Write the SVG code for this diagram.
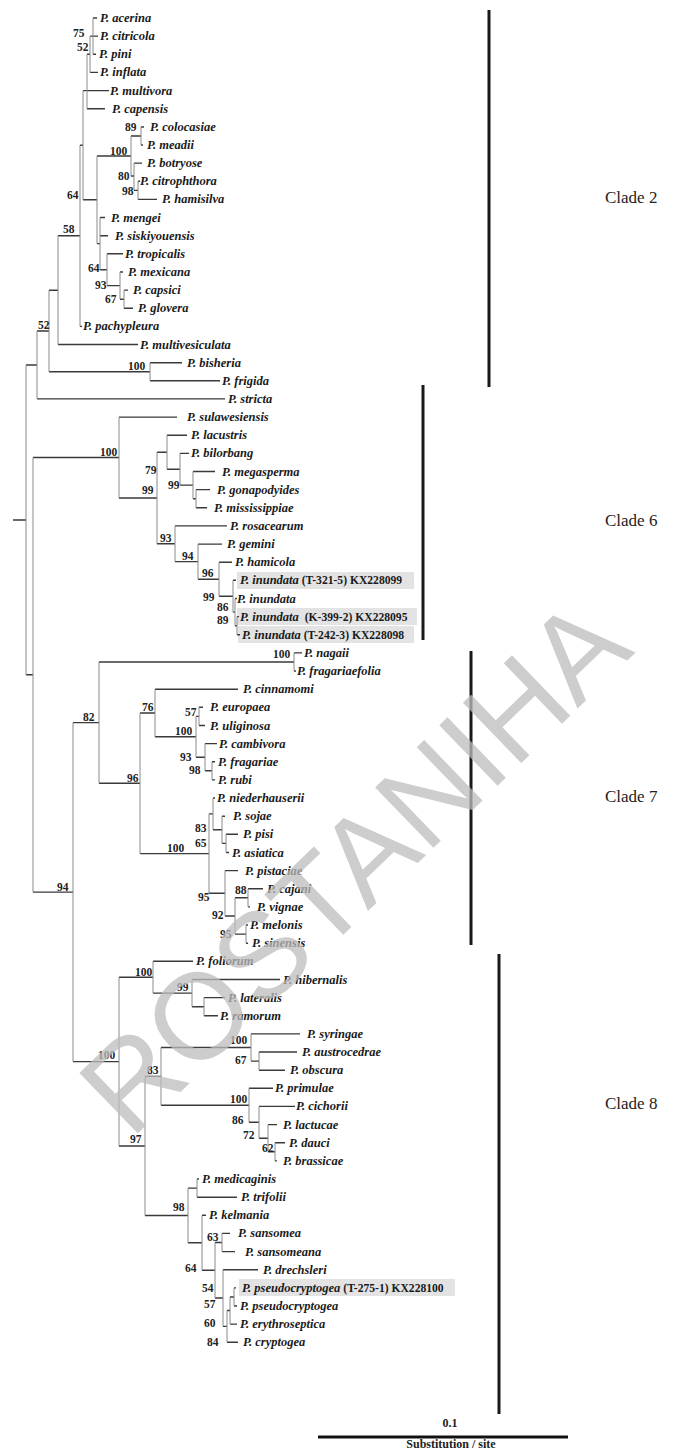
<svg xmlns="http://www.w3.org/2000/svg" width="673" height="1450" viewBox="0 0 673 1450">
<style>
.h{stroke:#3a3a3a;stroke-width:1.4;fill:none}
.v{stroke:#8a8a8a;stroke-width:1;fill:none}
.t{font-family:"Liberation Serif",serif;font-size:12.5px;font-weight:bold;font-style:italic;fill:#1a1a1a}
.n{font-style:normal;font-size:11.6px}
.b{font-family:"Liberation Serif",serif;font-size:11.5px;font-weight:bold;fill:#222}
.clade{font-family:"Liberation Serif",serif;font-size:17px;fill:#222}
.bar{stroke:#1a1a1a;stroke-width:3}
.hl{fill:#e3e3e3}
.sc{font-family:"Liberation Serif",serif;font-size:12px;font-weight:bold;fill:#222;text-anchor:middle}
</style>
<rect width="673" height="1450" fill="#fff"/>
<g id="highlights">
<rect class="hl" x="237" y="572" width="177" height="17"/>
<rect class="hl" x="237" y="608" width="180" height="17"/>
<rect class="hl" x="238" y="626" width="176" height="17"/>
<rect class="hl" x="239" y="1279" width="216" height="17"/>
</g>
<g id="connectors">
<path class="h" d="M93 18H97M93 36.1H98M93 54.3H96M90 36.1H93M90 72.4H98M87 54.3H90M87 90.6H109M87 108.7H105M83 90.6H87
M141 127H144M141 145H143M131 136H141M134 163.1H142M131 176H134M138 181.3H140M138 199.4H157M134 190.4H138M97 156H131
M100 217.5H105M100 235.7H108M107 253.8H123M120 272H123M124 290.1H128M124 308.2H133M120 299.2H124M107 285.6H120M100 269.7H107M97 243.6H100M83 199.8H97M80 145.2H83
M80 326.4H82M58 235.8H80M58 344.5H138M49 290.2H58M150 362.7H182M150 380.8H220M49 371.8H150M37 331H49M37 398.9H225M26 365H37M13 520H26
M119 417.1H177M167 435.2H187M180 453.4H189M193 471.5H215M196 489.6H210M196 507.8H207M193 498.7H196M180 485.1H193M167 469.2H180M157 452.2H167
M175 525.9H227M198 544.1H222M219 562.2H232M233 580.3H236M235 598.5H237M237 616.6H239M237 634.8H240M235 625.7H237M233 612.1H235M219 596.2H233M198 579.2H219M175 561.6H198M157 543.8H175M119 498H157M33 457.5H119
M294 652.9H302M294 671H296M99 662H294M155 689.2H238M199 707.3H203M199 725.5H205M196 716.4H199M205 743.6H217M212 761.8H215M212 779.9H215M205 770.8H212M196 757.2H205M155 736.8H196M140 713H155
M213 798H215M222 816.2H225M226 834.3H238M226 852.5H229M222 843.4H226M213 829.8H222M209 813.9H213M225 870.6H238M248 888.7H263M248 906.9H250M235 897.8H248M246 925H248M246 943.2H248M235 934.1H246M225 916H235M209 893.3H225M140 853.6H209M99 783.3H140M73 722.6H99
M153 961.3H193M192 979.5H280M204 997.6H225M204 1015.7H218M192 1006.7H204M153 993.1H192M119 977.2H153
M251 1033.9H300M259 1052H297M259 1070.2H285M251 1061.1H259M161 1047.5H251M249 1088.3H273M259 1106.4H295M268 1124.6H277M275 1142.7H285M275 1160.9H277M268 1151.8H275M259 1138.2H268M249 1122.3H259M161 1105.3H249M145 1076.4H161
M197 1179H199M197 1197.2H237M188 1188.1H197M202 1215.3H206M222 1233.4H230M222 1251.6H235M215 1242.5H222M223 1269.7H258M234 1287.9H236M234 1306H237M230 1297H234M230 1324.1H237M227 1310.5H230M227 1342.3H238M223 1326.4H227M215 1298H223M202 1270.3H215M188 1242.8H202M145 1215.5H188M119 1146H145M73 1061.6H119M33 892.1H73M26 674.8H33"/>
<path class="v" d="M93 18V54.3M90 36.1V72.4M87 54.3V108.7M83 90.6V199.8M141 127V145M138 181.3V199.4M134 163.1V190.4M131 136V176M124 290.1V308.2M120 272V299.2M107 253.8V285.6M100 217.5V269.7M97 156V243.6M80 145.2V326.4M58 235.8V344.5M150 362.7V380.8M49 290.2V371.8M37 331V398.9M26 365V674.8M33 457.5V892.1
M196 489.6V507.8M193 471.5V498.7M180 453.4V485.1M167 435.2V469.2M237 616.6V634.8M235 598.5V625.7M233 580.3V612.1M219 562.2V596.2M198 544.1V579.2M175 525.9V561.6M157 452.2V543.8M119 417.1V498
M294 652.9V671M199 707.3V725.5M212 761.8V779.9M205 743.6V770.8M196 716.4V757.2M155 689.2V736.8M226 834.3V852.5M222 816.2V843.4M213 798V829.8M248 888.7V906.9M246 925V943.2M235 897.8V934.1M225 870.6V916M209 813.9V893.3M140 713V853.6M99 662V783.3M73 722.6V1061.6
M204 997.6V1015.7M192 979.5V1006.7M153 961.3V993.1M259 1052V1070.2M251 1033.9V1061.1M275 1142.7V1160.9M268 1124.6V1151.8M259 1106.4V1138.2M249 1088.3V1122.3M161 1047.5V1105.3M197 1179V1197.2M222 1233.4V1251.6M234 1287.9V1306M230 1297V1324.1M227 1310.5V1342.3M223 1269.7V1326.4M215 1242.5V1298M202 1215.3V1270.3M188 1188.1V1242.8M145 1076.4V1215.5M119 977.2V1146"/>
</g>
<g id="support">
<text class="b" x="73" y="37">75</text><text class="b" x="77" y="51">52</text>
<text class="b" x="125" y="131">89</text><text class="b" x="110" y="155">100</text>
<text class="b" x="118" y="180">80</text><text class="b" x="122" y="195">98</text>
<text class="b" x="67" y="199">64</text><text class="b" x="63" y="233">58</text>
<text class="b" x="88" y="272">64</text><text class="b" x="95" y="289">93</text>
<text class="b" x="105" y="303">67</text><text class="b" x="38" y="329">52</text>
<text class="b" x="128" y="370">100</text>
<text class="b" x="100" y="456">100</text><text class="b" x="145" y="474">79</text>
<text class="b" x="142" y="494">99</text><text class="b" x="168" y="489">99</text>
<text class="b" x="160" y="542">93</text><text class="b" x="182" y="560">94</text>
<text class="b" x="202" y="577">96</text><text class="b" x="203" y="601">99</text>
<text class="b" x="217" y="611">86</text><text class="b" x="217" y="624">89</text>
<text class="b" x="273" y="658">100</text><text class="b" x="83" y="721">82</text>
<text class="b" x="142" y="711">76</text><text class="b" x="185" y="716">57</text>
<text class="b" x="175" y="735">100</text><text class="b" x="180" y="761">93</text>
<text class="b" x="189" y="774">98</text><text class="b" x="127" y="782">96</text>
<text class="b" x="195" y="832">83</text><text class="b" x="195" y="847">65</text>
<text class="b" x="167" y="852">100</text><text class="b" x="57" y="891">94</text>
<text class="b" x="235" y="894">88</text><text class="b" x="198" y="901">95</text>
<text class="b" x="212" y="919">92</text><text class="b" x="220" y="938">95</text>
<text class="b" x="135" y="976">100</text><text class="b" x="177" y="991">99</text>
<text class="b" x="230" y="1044">100</text><text class="b" x="98" y="1059">100</text>
<text class="b" x="235" y="1064">67</text><text class="b" x="147" y="1074">83</text>
<text class="b" x="230" y="1103">100</text><text class="b" x="232" y="1124">86</text>
<text class="b" x="243" y="1139">72</text><text class="b" x="130" y="1143">97</text>
<text class="b" x="262" y="1152">62</text><text class="b" x="173" y="1211">98</text>
<text class="b" x="207" y="1241">63</text><text class="b" x="185" y="1272">64</text>
<text class="b" x="202" y="1292">54</text><text class="b" x="204" y="1308">57</text>
<text class="b" x="204" y="1327">60</text><text class="b" x="207" y="1346">84</text>
</g>
<g id="taxa">
<g id="t01"><text class="t" x="100" y="22">P. acerina</text></g>
<g id="t02"><text class="t" x="100" y="40">P. citricola</text></g>
<g id="t03"><text class="t" x="99" y="58">P. pini</text></g>
<g id="t04"><text class="t" x="100" y="76">P. inflata</text></g>
<g id="t05"><text class="t" x="110" y="95">P. multivora</text></g>
<g id="t06"><text class="t" x="112" y="113">P. capensis</text></g>
<g id="t07"><text class="t" x="150" y="131">P. colocasiae</text></g>
<g id="t08"><text class="t" x="147" y="149">P. meadii</text></g>
<g id="t09"><text class="t" x="147" y="167">P. botryose</text></g>
<g id="t10"><text class="t" x="140" y="185">P. citrophthora</text></g>
<g id="t11"><text class="t" x="162" y="203">P. hamisilva</text></g>
<g id="t12"><text class="t" x="111" y="222">P. mengei</text></g>
<g id="t13"><text class="t" x="115" y="240">P. siskiyouensis</text></g>
<g id="t14"><text class="t" x="125" y="258">P. tropicalis</text></g>
<g id="t15"><text class="t" x="128" y="276">P. mexicana</text></g>
<g id="t16"><text class="t" x="133" y="294">P. capsici</text></g>
<g id="t17"><text class="t" x="138" y="312">P. glovera</text></g>
<g id="t18"><text class="t" x="83" y="330">P. pachypleura</text></g>
<g id="t19"><text class="t" x="140" y="349">P. multivesiculata</text></g>
<g id="t20"><text class="t" x="187" y="367">P. bisheria</text></g>
<g id="t21"><text class="t" x="222" y="385">P. frigida</text></g>
<g id="t22"><text class="t" x="228" y="403">P. stricta</text></g>
<g id="t23"><text class="t" x="187" y="421">P. sulawesiensis</text></g>
<g id="t24"><text class="t" x="191" y="439">P. lacustris</text></g>
<g id="t25"><text class="t" x="191" y="457">P. bilorbang</text></g>
<g id="t26"><text class="t" x="222" y="476">P. megasperma</text></g>
<g id="t27"><text class="t" x="217" y="494">P. gonapodyides</text></g>
<g id="t28"><text class="t" x="214" y="512">P. mississippiae</text></g>
<g id="t29"><text class="t" x="230" y="530">P. rosacearum</text></g>
<g id="t30"><text class="t" x="227" y="548">P. gemini</text></g>
<g id="t31"><text class="t" x="235" y="566">P. hamicola</text></g>
<g id="t32"><text class="t" x="240" y="584">P. inundata<tspan class="n"> (T-321-5) KX228099</tspan></text></g>
<g id="t33"><text class="t" x="237" y="603">P. inundata</text></g>
<g id="t34"><text class="t" x="240" y="621">P. inundata<tspan class="n" dx="3"> (K-399-2) KX228095</tspan></text></g>
<g id="t35"><text class="t" x="242" y="639">P. inundata<tspan class="n"> (T-242-3) KX228098</tspan></text></g>
<g id="t36"><text class="t" x="304" y="657">P. nagaii</text></g>
<g id="t37"><text class="t" x="297" y="675">P. fragariaefolia</text></g>
<g id="t38"><text class="t" x="243" y="693">P. cinnamomi</text></g>
<g id="t39"><text class="t" x="210" y="711">P. europaea</text></g>
<g id="t40"><text class="t" x="210" y="730">P. uliginosa</text></g>
<g id="t41"><text class="t" x="219" y="748">P. cambivora</text></g>
<g id="t42"><text class="t" x="218" y="766">P. fragariae</text></g>
<g id="t43"><text class="t" x="218" y="784">P. rubi</text></g>
<g id="t44"><text class="t" x="217" y="802">P. niederhauserii</text></g>
<g id="t45"><text class="t" x="233" y="820">P. sojae</text></g>
<g id="t46"><text class="t" x="243" y="838">P. pisi</text></g>
<g id="t47"><text class="t" x="232" y="857">P. asiatica</text></g>
<g id="t48"><text class="t" x="245" y="875">P. pistaciae</text></g>
<g id="t49"><text class="t" x="267" y="893">P. cajani</text></g>
<g id="t50"><text class="t" x="257" y="911">P. vignae</text></g>
<g id="t51"><text class="t" x="250" y="929">P. melonis</text></g>
<g id="t52"><text class="t" x="252" y="947">P. sinensis</text></g>
<g id="t53"><text class="t" x="196" y="965">P. foliorum</text></g>
<g id="t54"><text class="t" x="283" y="984">P. hibernalis</text></g>
<g id="t55"><text class="t" x="228" y="1002">P. lateralis</text></g>
<g id="t56"><text class="t" x="220" y="1020">P. ramorum</text></g>
<g id="t57"><text class="t" x="307" y="1038">P. syringae</text></g>
<g id="t58"><text class="t" x="302" y="1056">P. austrocedrae</text></g>
<g id="t59"><text class="t" x="290" y="1074">P. obscura</text></g>
<g id="t60"><text class="t" x="275" y="1092">P. primulae</text></g>
<g id="t61"><text class="t" x="296" y="1110">P. cichorii</text></g>
<g id="t62"><text class="t" x="283" y="1129">P. lactucae</text></g>
<g id="t63"><text class="t" x="289" y="1147">P. dauci</text></g>
<g id="t64"><text class="t" x="283" y="1165">P. brassicae</text></g>
<g id="t65"><text class="t" x="202" y="1183">P. medicaginis</text></g>
<g id="t66"><text class="t" x="241" y="1201">P. trifolii</text></g>
<g id="t67"><text class="t" x="209" y="1219">P. kelmania</text></g>
<g id="t68"><text class="t" x="238" y="1237">P. sansomea</text></g>
<g id="t69"><text class="t" x="245" y="1256">P. sansomeana</text></g>
<g id="t70"><text class="t" x="263" y="1274">P. drechsleri</text></g>
<g id="t71"><text class="t" x="242" y="1292">P. pseudocryptogea<tspan class="n"> (T-275-1) KX228100</tspan></text></g>
<g id="t72"><text class="t" x="240" y="1310">P. pseudocryptogea</text></g>
<g id="t73"><text class="t" x="240" y="1328">P. erythroseptica</text></g>
<g id="t74"><text class="t" x="243" y="1346">P. cryptogea</text></g>
</g>
<g id="clade2"><line class="bar" x1="489" y1="10" x2="489" y2="387"/><text class="clade" x="605" y="203">Clade 2</text></g>
<g id="clade6"><line class="bar" x1="423" y1="385" x2="423" y2="640"/><text class="clade" x="605" y="526">Clade 6</text></g>
<g id="clade7"><line class="bar" x1="471" y1="651" x2="471" y2="945"/><text class="clade" x="605" y="802">Clade 7</text></g>
<g id="clade8"><line class="bar" x1="499" y1="954" x2="499" y2="1414"/><text class="clade" x="605" y="1109">Clade 8</text></g>
<g id="scale">
<text class="sc" x="450" y="1427">0.1</text>
<line x1="318" y1="1437" x2="568" y2="1437" stroke="#111" stroke-width="3"/>
<text class="sc" x="451" y="1448">Substitution / site</text>
</g>
<g id="watermark"><text x="354" y="866" transform="rotate(-44 354 866)" text-anchor="middle" dominant-baseline="central" font-family="Liberation Sans, Arial, sans-serif" font-size="122" fill="#bdbdbd" opacity="0.75">ROSTANIHA</text></g>
</svg>
